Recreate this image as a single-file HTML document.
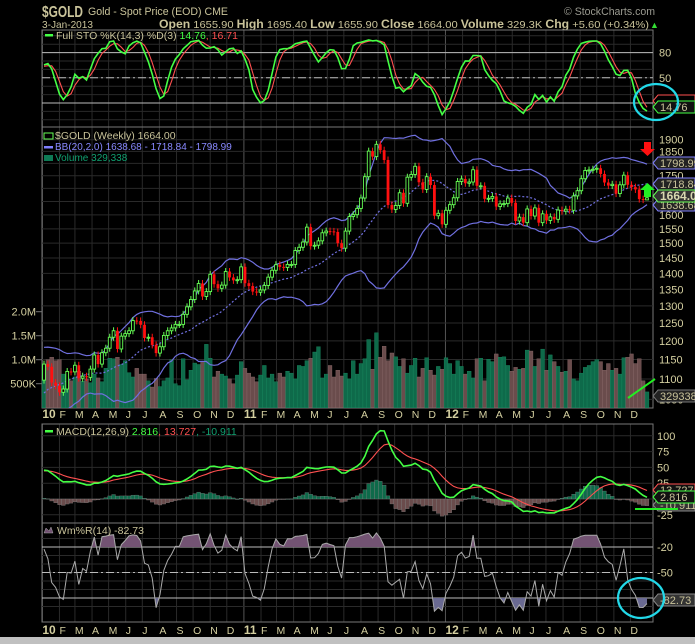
<!DOCTYPE html>
<html><head><meta charset="utf-8"><style>
html,body{margin:0;padding:0;background:#000;}
svg{display:block;font-family:"Liberation Sans",sans-serif;}
</style></head><body>
<svg id="c" width="695" height="644" xmlns="http://www.w3.org/2000/svg">
<rect x="0" y="0" width="695" height="644" fill="#000"/>
<rect x="0" y="637" width="695" height="7" fill="#c0c0c0"/>
<g>
<text x="42" y="17" fill="#c9c39a" font-size="16" font-weight="bold" textLength="41" lengthAdjust="spacingAndGlyphs">$GOLD</text>
<text x="88" y="15" fill="#c9c39a" font-size="11" textLength="140" lengthAdjust="spacingAndGlyphs">Gold - Spot Price (EOD) CME</text>
<text x="564" y="15" fill="#9a9a90" font-size="11" textLength="91" lengthAdjust="spacingAndGlyphs">© StockCharts.com</text>
<text x="42" y="28" fill="#c9c39a" font-size="10.5" textLength="51" lengthAdjust="spacingAndGlyphs">3-Jan-2013</text>
<text x="159" y="28" fill="#c9c39a" font-size="10.5" textLength="490" lengthAdjust="spacingAndGlyphs"><tspan font-weight="bold" font-size="11.5">Open</tspan> 1655.90 <tspan font-weight="bold" font-size="11.5">High</tspan> 1695.40 <tspan font-weight="bold" font-size="11.5">Low</tspan> 1655.90 <tspan font-weight="bold" font-size="11.5">Close</tspan> 1664.00 <tspan font-weight="bold" font-size="11.5">Volume</tspan> 329.3K <tspan font-weight="bold" font-size="11.5">Chg</tspan> +5.60 (+0.34%)</text>
<text x="650" y="28" fill="#33dd33" font-size="9">▲</text>
</g>
<g id="plot"></g>
</svg>
<script>
const preCloses=[915,937,955,950,940,945,955,955,995,1005,1000,995,1003,1050,1045,1058,1045,1060,1090,1118,1146,1170,1120,1110,1105,1097];
const closes=[1138,1131,1091,1083,1067,1075,1119,1118,1135,1102,1107,1104,1125,1162,1138,1168,1180,1210,1228,1178,1213,1220,1228,1257,1256,1245,1208,1210,1189,1167,1184,1215,1228,1236,1246,1246,1275,1297,1319,1345,1368,1328,1343,1397,1366,1353,1363,1406,1387,1378,1380,1421,
1369,1360,1343,1341,1348,1362,1388,1410,1428,1421,1419,1429,1429,1475,1486,1504,1556,1490,1493,1508,1536,1542,1541,1539,1500,1483,1542,1594,1601,1624,1663,1746,1851,1828,1880,1855,1814,1637,1620,1635,1683,1643,1744,1755,1788,1724,1696,1746,1713,1597,1606,1566,
1617,1638,1664,1727,1737,1720,1725,1774,1710,1710,1660,1662,1669,1631,1641,1642,1663,1645,1578,1592,1572,1622,1596,1626,1572,1604,1580,1593,1584,1618,1614,1621,1617,1671,1691,1738,1771,1773,1776,1780,1757,1723,1711,1716,1680,1714,1752,1714,1705,1696,1659,1657,1664];
const volumesK=[900,1000,1050,980,1000,700,620,560,640,760,550,600,520,700,620,540,820,1030,1020,1050,900,980,730,640,820,700,700,560,430,610,440,560,620,1000,500,460,1020,580,780,930,900,960,1320,1030,640,760,700,660,600,500,680,960,
820,720,640,540,680,880,620,700,540,720,640,760,720,600,880,860,980,1030,1160,1270,620,700,880,640,780,660,720,600,980,700,920,1020,1420,800,1560,1050,1280,980,1140,1060,860,1020,720,880,1030,640,820,1040,780,680,860,800,
1040,920,700,980,860,700,760,620,1020,1030,560,1010,960,1120,1050,1060,880,760,840,800,820,1200,1180,860,1020,1220,780,1100,960,860,740,760,1000,600,560,720,840,880,960,1000,960,780,920,780,820,700,1040,1050,1120,920,1020,560,329];
const priceTicks=[1900,1850,1800,1750,1700,1650,1600,1550,1500,1450,1400,1350,1300,1250,1200,1150,1100,1050];
const volTicks=[2000,1500,1000,500];
const volTickLabels=["2.0M","1.5M","1.0M","500K"];
const macdTicks=[100,75,50,25,0,-25];
const stoTicks=[80,50,20];
const wrTicks=[-20,-50,-80];
const monthLetters=["J","F","M","A","M","J","J","A","S","O","N","D"];

const NS="http://www.w3.org/2000/svg";
const plot=document.getElementById('plot');
function mk(tag,attrs,parent){const e=document.createElementNS(NS,tag);for(const k in attrs)e.setAttribute(k,attrs[k]);(parent||plot).appendChild(e);return e;}
const L=42,R=653;
const N=closes.length;
const xW=i=>44+i*(647-44)/(N-1);
const day0=Date.UTC(2010,0,4);
const xD=t=>44+((t-day0)/86400000)/7*(647-44)/(N-1);
const yP=p=>139.7+1008*Math.log10(1900/p);
const yV=v=>407.7-v*0.048;
const ySto=v=>119.8-v*0.84;
const yM=v=>499-v*0.632;
const yWR=v=>530-v*0.85;
const panels=[[30,127],[127,408],[424,523],[523,622]];

const all=preCloses.concat(closes);
const P=preCloses.length;
const opensAll=all.map((c,i)=>i===0?c:all[i-1]);
opensAll[all.length-1]=1655.9;
const hiAll=all.map((c,i)=>Math.max(c,opensAll[i])*1.008);
const loAll=all.map((c,i)=>Math.min(c,opensAll[i])*0.992);
hiAll[all.length-1]=1695.4;loAll[all.length-1]=1655.9;

panels.forEach((pn,k)=>{
  const g=mk('g',{});
  
  
  for(let y=2010;y<=2012;y++)for(let m=0;m<12;m++){
    const x=xD(Date.UTC(y,m,1));if(x<L||x>R)continue;
    mk('line',{x1:x,x2:x,y1:pn[0],y2:pn[1],stroke:m===0?'#555':'#2a2a2a','stroke-width':1},g);
  }
  mk('rect',{x:L,y:pn[0],width:R-L,height:pn[1]-pn[0],fill:'none',stroke:'#777'},g);
});
priceTicks.forEach(p=>{mk('line',{x1:L,x2:R,y1:yP(p),y2:yP(p),stroke:'#2a2a2a'});
 const t=mk('text',{x:659,y:yP(p)+4,fill:'#d4cfa0','font-size':11});t.textContent=p;
 });
volTicks.forEach((v,i)=>{mk('line',{x1:36,x2:L,y1:yV(v),y2:yV(v),stroke:'#777'});
 const t=mk('text',{x:36,y:yV(v)+4,fill:'#d4cfa0','font-size':11,'text-anchor':'end'});t.textContent=volTickLabels[i];
 });
for(let v=0;v<=100;v+=10){mk('line',{x1:L,x2:R,y1:ySto(v),y2:ySto(v),stroke:'#2a2a2a'});}
stoTicks.forEach(v=>{mk('line',{x1:L,x2:R,y1:ySto(v),y2:ySto(v),stroke:'#bbb','stroke-dasharray':v===50?'8,3,2,3':'none'});
 if(v!==20){const t=mk('text',{x:659,y:ySto(v)+4,fill:'#d4cfa0','font-size':11});t.textContent=v;
 }});
macdTicks.forEach(v=>{mk('line',{x1:L,x2:R,y1:yM(v),y2:yM(v),stroke:'#2a2a2a'});
 if(v!==0){const t=mk('text',{x:657,y:yM(v)+4,fill:'#d4cfa0','font-size':11});t.textContent=v;
 }});
for(let v=-10;v>=-90;v-=10)mk('line',{x1:L,x2:R,y1:yWR(v),y2:yWR(v),stroke:'#2a2a2a'});
wrTicks.forEach(v=>{mk('line',{x1:L,x2:R,y1:yWR(v),y2:yWR(v),stroke:'#bbb','stroke-dasharray':v===-50?'8,3,2,3':'none'});
 if(v!==-80){const t=mk('text',{x:657,y:yWR(v)+4,fill:'#d4cfa0','font-size':11});t.textContent=v;
 }});
[418,634].forEach(yy=>{
 for(let y=2010;y<=2012;y++)for(let m=0;m<12;m++){
  const x=xD(Date.UTC(y,m,1));
  const t=mk('text',{x:Math.max(x,37),y:yy,fill:'#d4cfa0','font-size':m===0?12:10.5,'font-weight':m===0?'bold':'normal'});
  t.textContent=m===0?String(y-2000):monthLetters[m];
  
 }});

for(let i=0;i<N;i++){
 const up=all[P+i]>=opensAll[P+i];
 const b=mk('rect',{x:xW(i)-1.9,y:yV(volumesK[i]),width:3.8,height:407.7-yV(volumesK[i]),fill:up?'#0e6a4a':'#6a4c4c',stroke:up?'#1a8a60':'#8a6a6a','stroke-width':0.4});
 
}
function sma(a,n,i){let s=0,c=0;for(let j=Math.max(0,i-n+1);j<=i;j++){s+=a[j];c++;}return s/c;}
const mid=[],up=[],lo=[];
for(let k=0;k<all.length;k++){const m=sma(all,20,k);let s=0,c=0;for(let j=Math.max(0,k-19);j<=k;j++){s+=(all[j]-m)**2;c++;}const sd=Math.sqrt(s/c);mid.push(m);up.push(m+2*sd);lo.push(m-2*sd);}
function line(arr,yf,attrs,name){let d='';for(let i=0;i<N;i++){const v=arr[P+i];if(v===undefined)continue;let y=yf(v);d+=(d?'L':'M')+xW(i).toFixed(1)+','+y.toFixed(1);}const p=mk('path',Object.assign({d:d,fill:'none'},attrs));return p;}
const clip=mk('clipPath',{id:'pc'});mk('rect',{x:L,y:127,width:R-L,height:281},clip);
const cl=mk('clipPath',{id:'mc'});mk('rect',{x:L,y:424,width:R-L,height:99},cl);
line(up,yP,{stroke:'#7070e0','stroke-width':1.2,'clip-path':'url(#pc)'},'bb-upper');
line(lo,yP,{stroke:'#7070e0','stroke-width':1.2,'clip-path':'url(#pc)'},'bb-lower');
line(mid,yP,{stroke:'#7070e0','stroke-width':1.2,'stroke-dasharray':'2,2','clip-path':'url(#pc)'},'bb-middle');
for(let i=0;i<N;i++){
 const k=P+i,o=opensAll[k],c=all[k],x=xW(i);const upc=c>=o;
 const col=upc?'#66ff55':'#ff1010';
 const w=mk('line',{x1:x,x2:x,y1:yP(hiAll[k]),y2:yP(loAll[k]),stroke:col,'stroke-width':1});
 
 const top=yP(Math.max(o,c)),bot=yP(Math.min(o,c));
 const b=mk('rect',{x:x-1.4,y:top,width:2.8,height:Math.max(1,bot-top),fill:upc?'#000':'#ff1010',stroke:col,'stroke-width':upc?0.9:0});
 
}
const fastK=all.map((c,k)=>{let h=-1e9,l=1e9;for(let j=Math.max(0,k-13);j<=k;j++){h=Math.max(h,hiAll[j]);l=Math.min(l,loAll[j]);}return h===l?50:100*(c-l)/(h-l);});
const slowK=fastK.map((v,k)=>sma(fastK,3,k));
const pctD=slowK.map((v,k)=>sma(slowK,3,k));
line(pctD,ySto,{stroke:'#ff5050','stroke-width':1.1},'sto-d-line');
line(slowK,ySto,{stroke:'#44ff44','stroke-width':1.6},'sto-k-line');
function ema(a,n){const r=[];const k=2/(n+1);a.forEach((v,i)=>r.push(i===0?v:v*k+r[i-1]*(1-k)));return r;}
const e12=ema(all,12),e26=ema(all,26);const macd=all.map((v,i)=>e12[i]-e26[i]);const sig=ema(macd,9);const hist=macd.map((v,i)=>v-sig[i]);
for(let i=0;i<N;i++){const h=hist[P+i];const y0=yM(0),y1=yM(h);
 const b=mk('rect',{x:xW(i)-1.9,y:Math.min(y0,y1),width:3.8,height:Math.max(0.5,Math.abs(y1-y0)),fill:h>=0?'#0e6a4a':'#6a4c4c',stroke:'#888','stroke-width':0.3});
 }
line(sig,yM,{stroke:'#ff5050','stroke-width':1.1,'clip-path':'url(#mc)'},'macd-signal-line');
line(macd,yM,{stroke:'#44ff44','stroke-width':1.6,'clip-path':'url(#mc)'},'macd-line');
const wr=all.map((c,k)=>{let h=-1e9,l=1e9;for(let j=Math.max(0,k-13);j<=k;j++){h=Math.max(h,hiAll[j]);l=Math.min(l,loAll[j]);}return h===l?-50:-100*(h-c)/(h-l);});
const ca=mk('clipPath',{id:'wa'});mk('rect',{x:L,y:523,width:R-L,height:yWR(-20)-523},ca);
const cb=mk('clipPath',{id:'wb'});mk('rect',{x:L,y:yWR(-80),width:R-L,height:622-yWR(-80)},cb);
let dA='M'+xW(0)+','+yWR(-20),dB='M'+xW(0)+','+yWR(-80);
for(let i=0;i<N;i++){dA+='L'+xW(i).toFixed(1)+','+yWR(wr[P+i]).toFixed(1);dB+='L'+xW(i).toFixed(1)+','+yWR(wr[P+i]).toFixed(1);}
dA+='L'+xW(N-1)+','+yWR(-20)+'Z';dB+='L'+xW(N-1)+','+yWR(-80)+'Z';
const fa=mk('path',{d:dA,fill:'#735373','clip-path':'url(#wa)'});
const fb=mk('path',{d:dB,fill:'#6a6a92','clip-path':'url(#wb)'});
line(wr,yWR,{stroke:'#aaa','stroke-width':1},'williams-line');

function txt(x,y,s,fill,size,name,extra){const t=mk('text',Object.assign({x:x,y:y,fill:fill,'font-size':size},extra||{}));t.textContent=s;return t;}
mk('rect',{x:45,y:34,width:8,height:2.5,fill:'#44ff44'});
const s1=txt(56,39,'Full STO %K(14,3) %D(3) ','#c9c39a',10.5,'sto-legend');
const ts=mk('tspan',{fill:'#44ff44'},s1);ts.textContent='14.76';const ts2=mk('tspan',{fill:'#ff5050'},s1);ts2.textContent=', 16.71';
txt(55,139,'$GOLD (Weekly) 1664.00','#c9c39a',10.5,'price-legend');
mk('rect',{x:44,y:133,width:9,height:6,fill:'none',stroke:'#66ff55'});
mk('rect',{x:44,y:146,width:9,height:2.5,fill:'#8080ff'});
txt(55,150,'BB(20,2.0) 1638.68 - 1718.84 - 1798.99','#8888ff',10,'bb-legend');
mk('rect',{x:44,y:155,width:9,height:6,fill:'#0e7a55'});
txt(55,161,'Volume 329,338','#10a070',10,'volume-legend');
mk('rect',{x:45,y:430,width:8,height:2.5,fill:'#44ff44'});
const m1=txt(56,435,'MACD(12,26,9) ','#c9c39a',10.5,'macd-legend');
let t1=mk('tspan',{fill:'#44ff44'},m1);t1.textContent='2.816';t1=mk('tspan',{fill:'#ff5050'},m1);t1.textContent=', 13.727';t1=mk('tspan',{fill:'#10a070'},m1);t1.textContent=', -10.911';
mk('path',{d:'M44,533 L46,528 L49,531 L51,527 L53,533 Z',fill:'#735373',stroke:'#aaa','stroke-width':0.5});
txt(57,534,'Wm%R(14) -82.73','#c9c39a',10.5,'williams-legend');

function tag(y,s,stroke,fill,tc,name,bold){const p=mk('path',{d:`M653,${y} L658,${y-6} L695,${y-6} L695,${y+6} L658,${y+6} Z`,fill:fill,stroke:stroke,'stroke-width':1});
 txt(660,y+4,s,tc,bold?12:11,name+'-tag-text',bold?{'font-weight':'bold'}:{});}
tag(101,'','#ff5050','#000','#c9c39a','sto-d');
tag(107,'14.76','#44ff44','#111','#c9c39a','sto-k');
tag(163,'1798.99','#8080ff','#222','#c9c39a','bb-upper');
tag(184,'1718.84','#8080ff','#222','#c9c39a','bb-middle');
tag(205,'1638.68','#8080ff','#222','#c9c39a','bb-lower');
tag(196,'1664.00','#66ff55','#333','#d8d8b0','close',true);
tag(396,'329338','#777','#222','#c9c39a','volume');
tag(505,'-10.911','#888','#333','#c9c39a','macd-hist');
tag(490,'13.727','#ff5050','#111','#c9c39a','macd-signal');
tag(497,'2.816','#44ff44','#111','#c9c39a','macd');
tag(600,'-82.73','#888','#333','#c9c39a','williams');
const an=[
 mk('ellipse',{cx:656,cy:102,rx:22,ry:18,fill:'none',stroke:'#22d8e8','stroke-width':2.2}),
 mk('ellipse',{cx:641,cy:598,rx:23,ry:20,fill:'none',stroke:'#22d8e8','stroke-width':2.2}),
 mk('path',{d:'M644,142 L651,142 L651,149 L655,149 L647.5,156 L640,149 L644,149 Z',fill:'#ff1010'}),
 mk('path',{d:'M644,197 L651,197 L651,190 L655,190 L647.5,183 L640,190 L644,190 Z',fill:'#22ee22'}),
 mk('line',{x1:628,y1:398,x2:655,y2:379,stroke:'#22ee22','stroke-width':2}),
 mk('line',{x1:635,y1:509,x2:678,y2:509,stroke:'#22ee22','stroke-width':2})];
an.forEach(e=>{});
</script>
</body></html>
